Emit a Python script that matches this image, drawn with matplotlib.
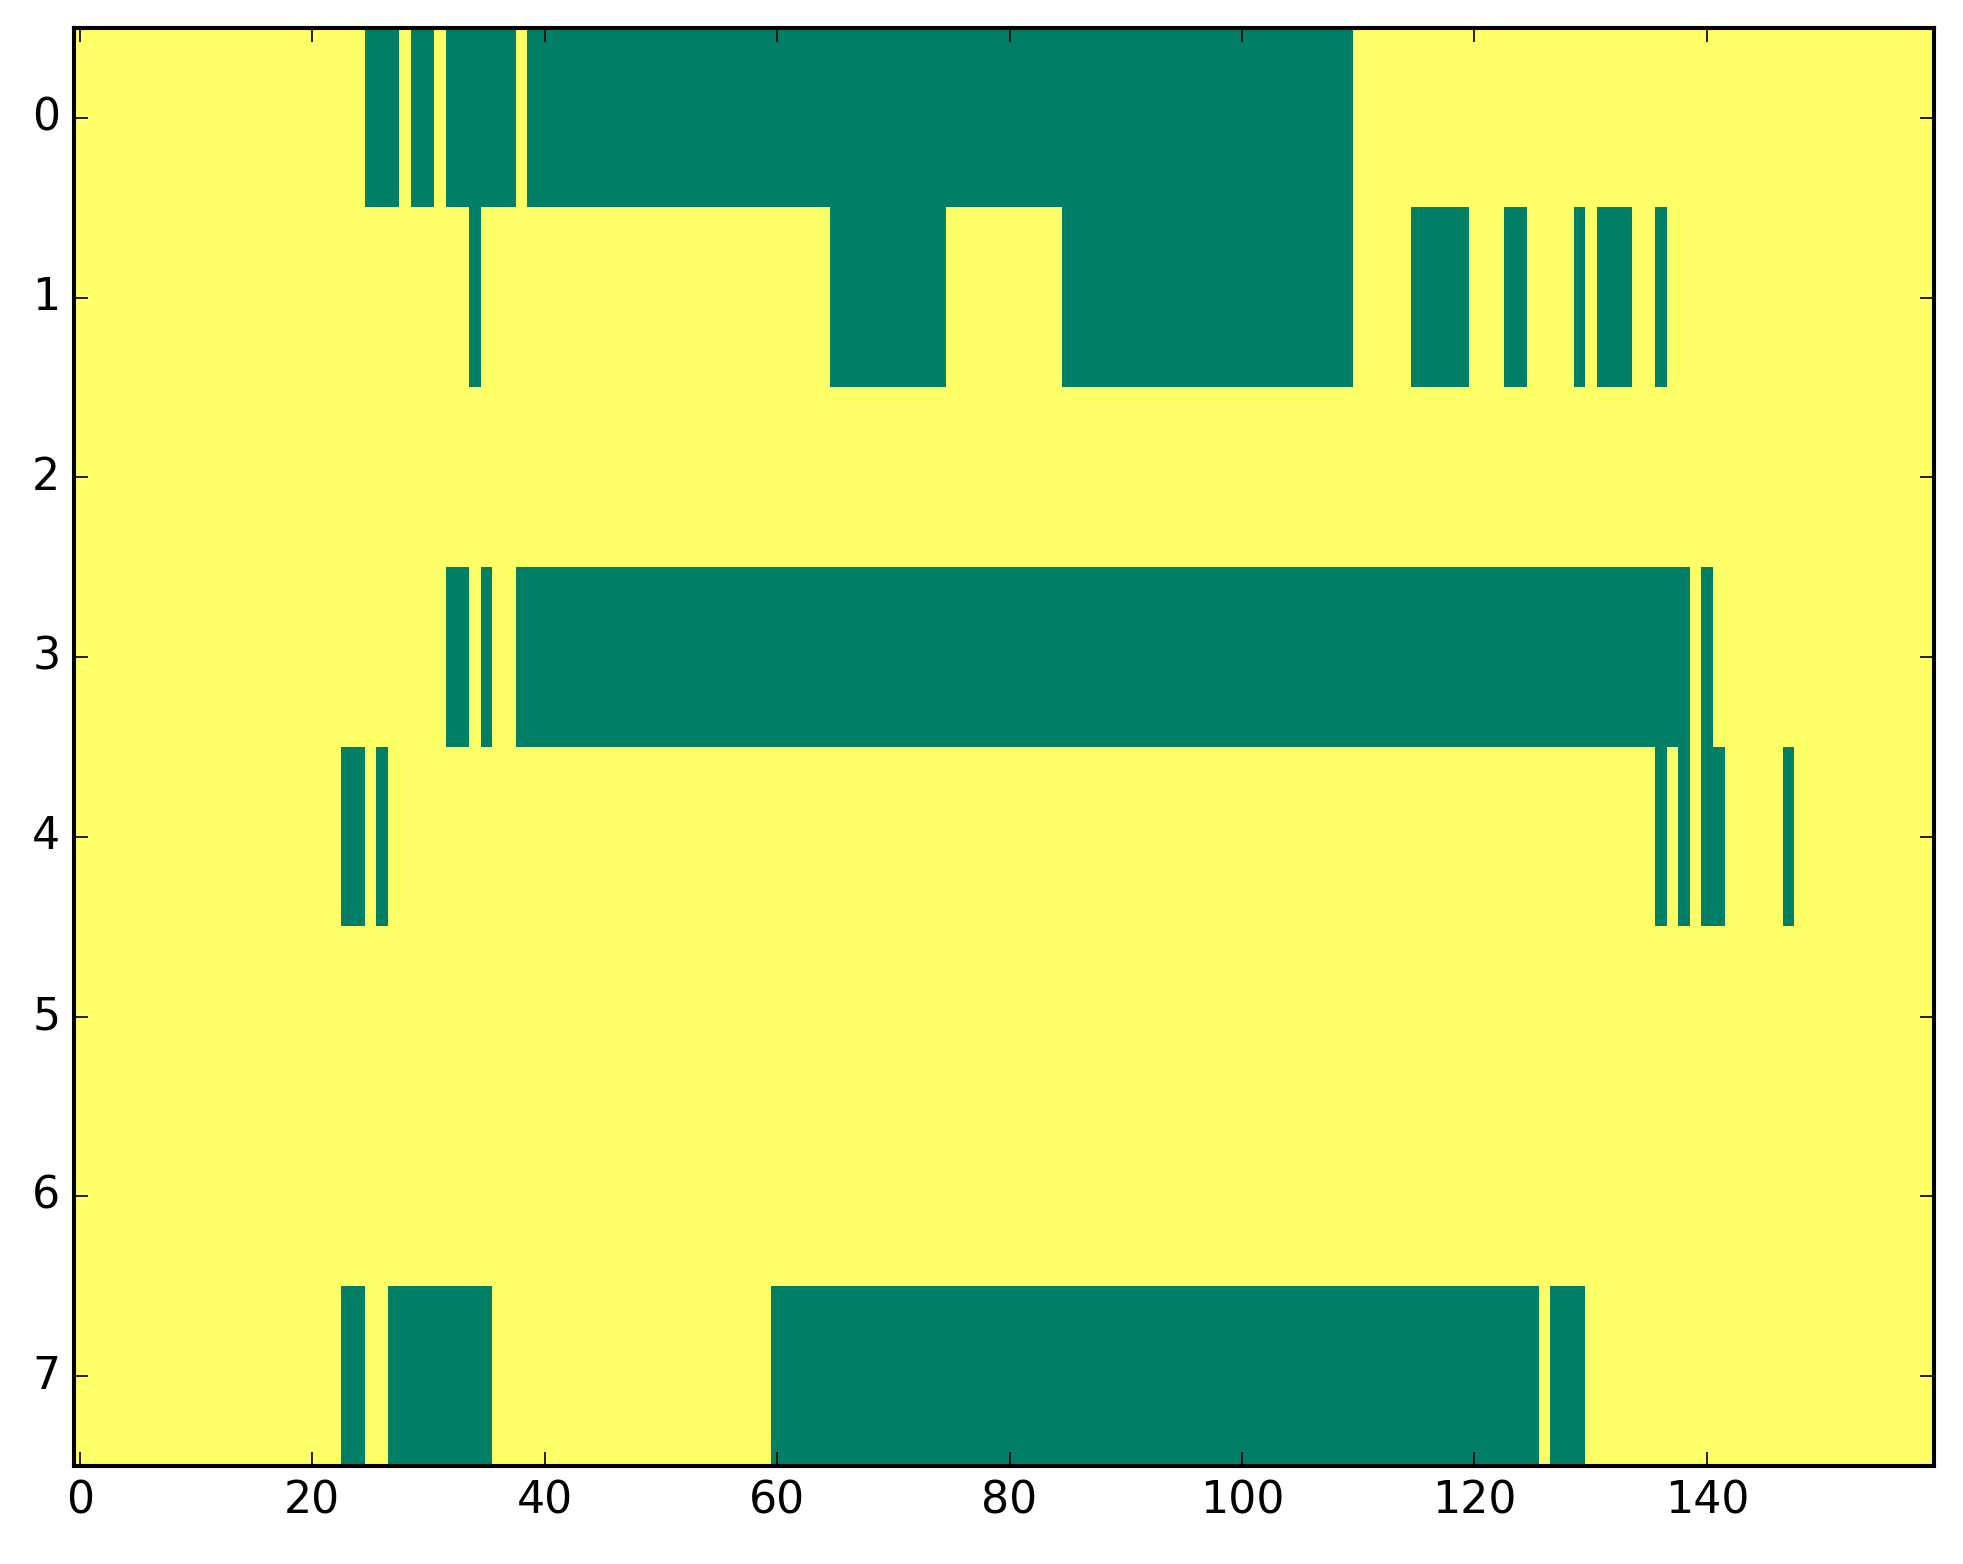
"""Binary mask heatmap: 8 rows x 160 columns, summer colormap, classic look."""

import matplotlib

matplotlib.use("Agg")

import matplotlib.pyplot as plt  # noqa: E402
import numpy as np  # noqa: E402

n_rows = 8
n_cols = 160

# green runs (value 0) per row, inclusive column ranges; everything else is 1
row0_runs = [(25, 27), (29, 30), (32, 37), (39, 109)]
row1_runs = [(34, 34), (65, 74), (85, 109), (115, 119), (123, 124),
             (129, 129), (131, 133), (136, 136)]
row2_runs = []
row3_runs = [(32, 33), (35, 35), (38, 138), (140, 140)]
row4_runs = [(23, 24), (26, 26), (136, 136), (138, 138), (140, 141), (147, 147)]
row5_runs = []
row6_runs = []
row7_runs = [(23, 24), (27, 35), (60, 125), (127, 129)]

runs = [row0_runs, row1_runs, row2_runs, row3_runs,
        row4_runs, row5_runs, row6_runs, row7_runs]

mask = np.ones((n_rows, n_cols))
for r, row in enumerate(runs):
    for start, end in row:
        mask[r, start:end + 1] = 0

plt.style.use("classic")

fig, ax = plt.subplots(figsize=(8, 6.374), dpi=245.375)
ax.imshow(mask, cmap="summer", aspect="auto", interpolation="nearest",
          vmin=0, vmax=1)
ax.set_xlim(-0.5, n_cols - 0.5)
ax.set_ylim(n_rows - 0.5, -0.5)
ax.set_xticks(np.arange(0, n_cols, 20))
ax.set_yticks(np.arange(n_rows))
ax.tick_params(labelsize=13)
for spine in ax.spines.values():
    spine.set_linewidth(1.2)

fig.subplots_adjust(left=0.0377, right=0.985, top=0.982, bottom=0.0627)
fig.savefig("out.png", dpi=245.375)
plt.close(fig)
